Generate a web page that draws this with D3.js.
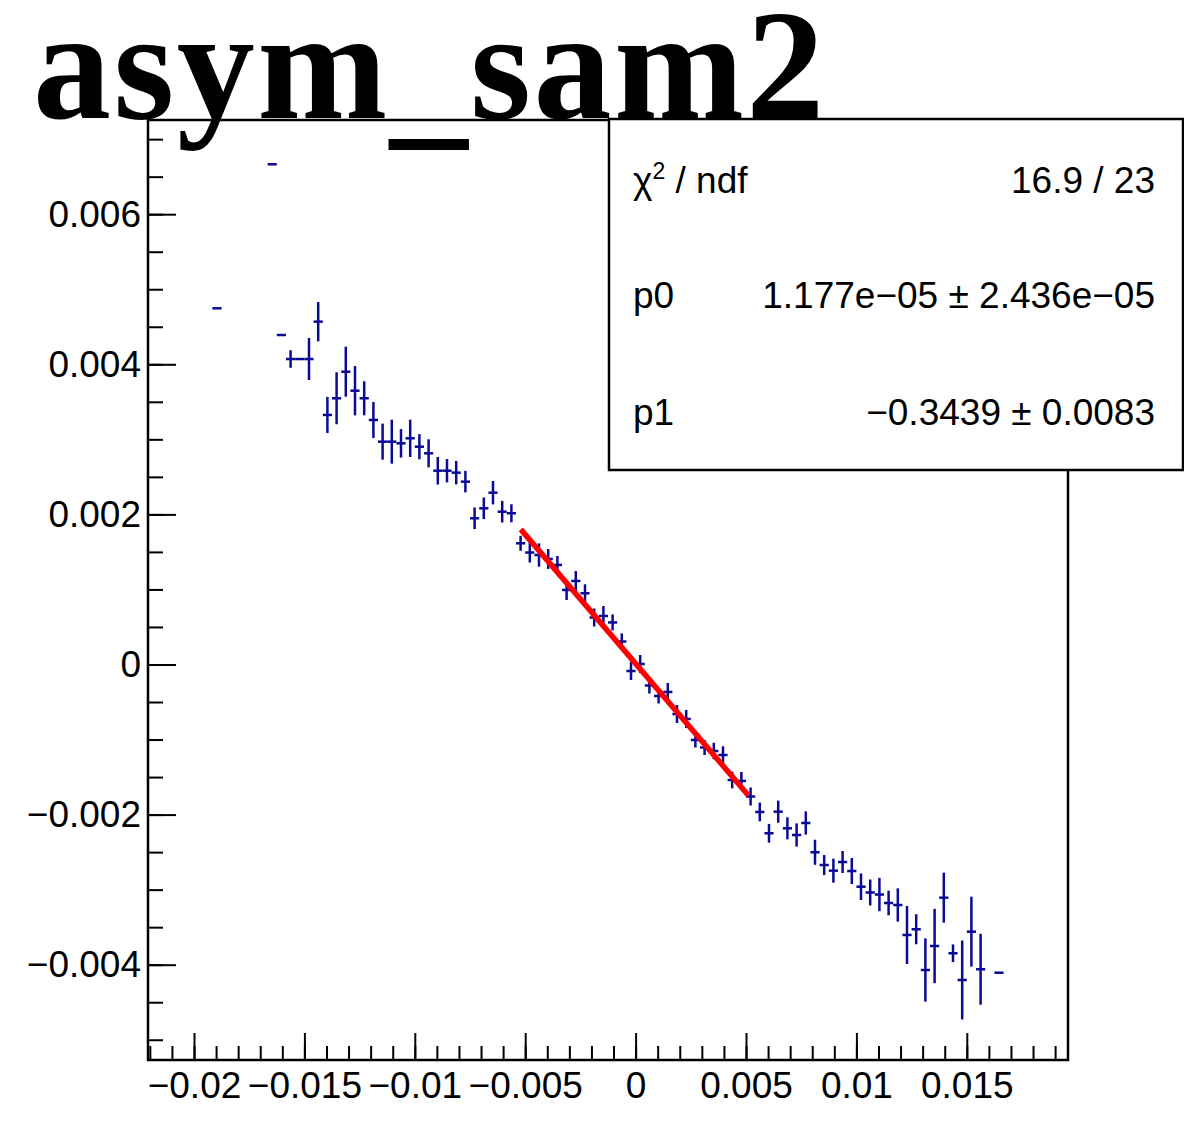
<!DOCTYPE html>
<html><head><meta charset="utf-8">
<script src="https://cdn.jsdelivr.net/npm/d3@7"></script>
<style>body{margin:0;background:#fff}svg{display:block}</style>
</head><body>
<script>
// ---- data ----
const binCenters = [-0.0189583,-0.0164583,-0.0160417,-0.015625,-0.0152083,-0.0147917,-0.014375,-0.0139583,-0.0135417,-0.013125,
 -0.0127083,-0.0122917,-0.011875,-0.0114583,-0.0110417,-0.010625,-0.0102083,-0.0097917,-0.009375,-0.0089583,
 -0.0085417,-0.008125,-0.0077083,-0.0072917,-0.006875,-0.0064583,-0.0060417,-0.005625,-0.0052083,-0.0047917,
 -0.004375,-0.0039583,-0.0035417,-0.003125,-0.0027083,-0.0022917,-0.001875,-0.0014583,-0.0010417,-0.000625,
 -0.0002083,0.0002083,0.000625,0.0010417,0.0014583,0.001875,0.0022917,0.0027083,0.003125,0.0035417,
 0.0039583,0.004375,0.0047917,0.0052083,0.005625,0.0060417,0.0064583,0.006875,0.0072917,0.0077083,
 0.008125,0.0085417,0.0089583,0.009375,0.0097917,0.0102083,0.010625,0.0110417,0.0114583,0.011875,
 0.0122917,0.0127083,0.013125,0.0135417,0.0139583,0.014375,0.0147917,0.0152083,0.015625,0.0164583];
const asymValues = [0.004746,0.006665,0.00439,0.00407,0.00407,0.00407,0.004568,0.003325,0.003547,0.003901,
 0.003648,0.003547,0.003258,0.002969,0.002969,0.002947,0.003014,0.002902,0.002814,0.002582,
 0.002582,0.002556,0.002436,0.001948,0.002081,0.002289,0.002036,0.002015,0.001615,0.001492,
 0.001459,0.001406,0.001326,0.000993,0.001113,0.000949,0.000626,0.000646,0.00056,0.000306,
 -0.000087,0.0000067,-0.00028,-0.00042,-0.000366,-0.00066,-0.000726,-0.001006,-0.001106,-0.001153,
 -0.001206,-0.001539,-0.001552,-0.001759,-0.001965,-0.002249,-0.001961,-0.002183,-0.002272,-0.002112,
 -0.002502,-0.002672,-0.002747,-0.002632,-0.002752,-0.002961,-0.003038,-0.003065,-0.003178,-0.003205,
 -0.003604,-0.003528,-0.004071,-0.003751,-0.003107,-0.003848,-0.004204,-0.00356,-0.004061,-0.004107];
const asymErrors = [0,0,0,0.000117,0,0.00028,0.000262,0.00024,0.000346,0.000333,
 0.000329,0.000227,0.00024,0.00024,0.000293,0.00019,0.000249,0.000167,0.000187,0.000184,
 0.000156,0.000156,0.000144,0.000144,0.000144,0.000156,0.000144,0.00012,0.0001,0.000133,
 0.000155,0.000133,0.00012,0.000133,0.000133,0.00012,0.00012,0.000133,0.000107,0.000107,
 0.00012,0.00012,0.000107,0.0001,0.00012,0.00012,0.00012,0.0001,0.0001,0.00011,
 0.000116,0.000111,0.00012,0.00012,0.000125,0.000125,0.000147,0.000147,0.000155,0.000155,
 0.000167,0.000133,0.00016,0.000147,0.000173,0.000177,0.000173,0.000222,0.000164,0.000222,
 0.000386,0.0002,0.000422,0.000495,0.000333,0.000118,0.000526,0.000466,0.000473,0];
const binWidth = 0.000416667;
const xDomain = [-0.0220833, 0.0195833];
const yDomain = [-0.00527, 0.007255];
const xMajorTicks = [-0.02,-0.015,-0.01,-0.005,0,0.005,0.01,0.015];
const yMajorTicks = [-0.004,-0.002,0,0.002,0.004,0.006];
const fitP0 = 1.177e-5;
const fitP1 = -0.3439;
const fitRange = [-0.0052, 0.0051];
const statLabels = ["p0", "p1"];
const statValues = ["1.177e\u221205 \u00b1 2.436e\u221205", "\u22120.3439 \u00b1 0.0083"];
const chi2Text = "16.9 / 23";
const titleParts = ["asym", "_", "sam2"];

// ---- drawing ----
const W = 1184, H = 1128;
const frame = {left: 148, right: 1068, top: 120, bottom: 1060};
const svg = d3.select("body").append("svg").attr("width", W).attr("height", H);
svg.append("rect").attr("width", W).attr("height", H).attr("fill", "#fff");

const x = d3.scaleLinear().domain(xDomain).range([frame.left, frame.right]);
const y = d3.scaleLinear().domain(yDomain).range([frame.bottom, frame.top]);
const fmt = d3.format("~g");
const font = "'Liberation Sans', Arial, Helvetica, sans-serif";

// minor ticks
const xMinor = d3.range(-22, 20).map(k => k * 0.001).filter(v => v >= xDomain[0] && v <= xDomain[1]);
const yMinor = d3.range(-10, 15).map(k => k * 0.0005).filter(v => v >= yDomain[0] && v <= yDomain[1]);

const gx = svg.append("g").attr("transform", `translate(0,${frame.bottom})`);
gx.call(d3.axisBottom(x).tickValues(xMinor).tickSize(-14).tickFormat(""));
gx.append("g").call(d3.axisBottom(x).tickValues(xMajorTicks).tickSizeInner(-27).tickSizeOuter(0).tickPadding(12).tickFormat(fmt));
const gy = svg.append("g").attr("transform", `translate(${frame.left},0)`);
gy.call(d3.axisLeft(y).tickValues(yMinor).tickSize(-15).tickFormat(""));
gy.append("g").call(d3.axisLeft(y).tickValues(yMajorTicks).tickSizeInner(-28).tickSizeOuter(0).tickPadding(7).tickFormat(fmt));
svg.selectAll(".domain").remove();
svg.selectAll(".tick line").attr("stroke", "#000").attr("stroke-width", 2);
svg.selectAll(".tick text").attr("font-family", font).attr("font-size", 37).attr("fill", "#000");

// frame
svg.append("rect").attr("x", frame.left).attr("y", frame.top)
  .attr("width", frame.right - frame.left).attr("height", frame.bottom - frame.top)
  .attr("fill", "none").attr("stroke", "#000").attr("stroke-width", 2.5);

// error bars
const pts = binCenters.map((c, i) => ({c, v: asymValues[i], e: asymErrors[i]}));
const gp = svg.append("g").attr("stroke", "#0a0a96").attr("stroke-width", 2.5).attr("fill", "none");
gp.selectAll("line.h").data(pts).join("line").attr("class", "h")
  .attr("x1", d => x(d.c - binWidth / 2)).attr("x2", d => x(d.c + binWidth / 2))
  .attr("y1", d => y(d.v)).attr("y2", d => y(d.v));
gp.selectAll("line.v").data(pts.filter(d => d.e > 0)).join("line").attr("class", "v")
  .attr("x1", d => x(d.c)).attr("x2", d => x(d.c))
  .attr("y1", d => y(d.v - d.e)).attr("y2", d => y(d.v + d.e));

// fit line
const fitLine = d3.line().x(d => x(d)).y(d => y(fitP0 + fitP1 * d));
svg.append("path").attr("d", fitLine(fitRange)).attr("stroke", "#ff0000")
  .attr("stroke-width", 5.5).attr("fill", "none");

// stats box
const box = {x: 609, y: 119, w: 574, h: 351};
svg.append("rect").attr("x", box.x).attr("y", box.y).attr("width", box.w).attr("height", box.h)
  .attr("fill", "#fff").attr("stroke", "#000").attr("stroke-width", 2.5);
const rowY = [193, 308, 425];
const st = svg.append("g").attr("font-family", font).attr("font-size", 37).attr("fill", "#000");
const chi = st.append("text").attr("x", 633).attr("y", rowY[0]);
chi.append("tspan").text("\u03c7");
chi.append("tspan").attr("font-size", 23).attr("dy", -14).text("2");
chi.append("tspan").attr("dy", 14).text(" / ndf");
st.append("text").attr("x", 1155).attr("y", rowY[0]).attr("text-anchor", "end").text(chi2Text);
statLabels.forEach((l, i) => {
  st.append("text").attr("x", 633).attr("y", rowY[i + 1]).text(l);
  st.append("text").attr("x", 1155).attr("y", rowY[i + 1]).attr("text-anchor", "end").text(statValues[i]);
});

// title
const title = svg.append("text").attr("x", 33).attr("y", 118)
  .attr("font-family", "'Liberation Serif', 'Times New Roman', serif")
  .attr("font-weight", "bold").attr("font-size", 156).attr("letter-spacing", 2.5).attr("fill", "#000");
title.append("tspan").text(titleParts[0]);
title.append("tspan").attr("dy", 10).text(titleParts[1]);
title.append("tspan").attr("dy", -10).text(titleParts[2]);
</script>
</body></html>
